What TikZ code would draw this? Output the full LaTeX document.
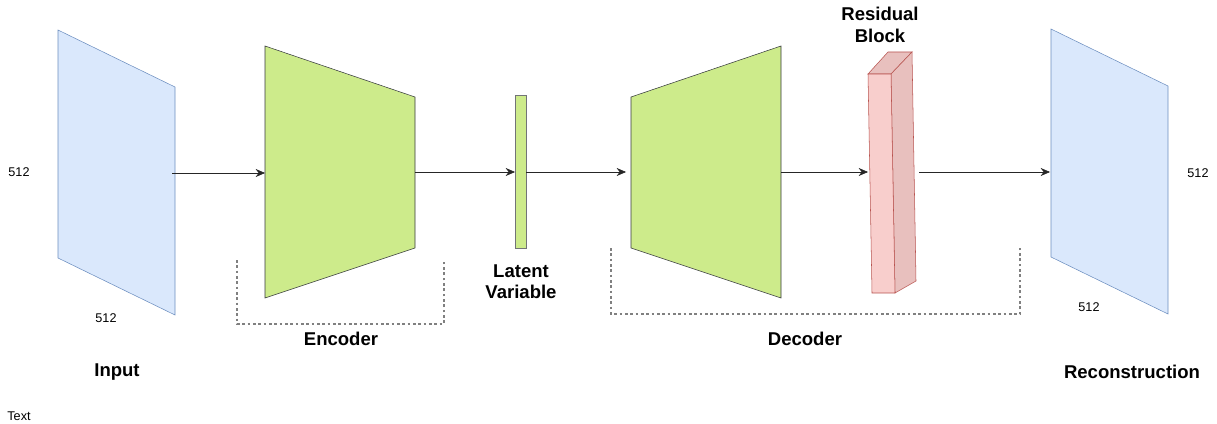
\documentclass[tikz,border=0pt]{standalone}
\usepackage{fontspec}
\setmainfont{Liberation Sans}
\usetikzlibrary{arrows.meta}
\definecolor{inblue}{HTML}{DAE8FC}
\definecolor{inline}{HTML}{6C8EBF}
\definecolor{encgreen}{HTML}{CDEB8B}
\definecolor{encline}{HTML}{36393D}
\definecolor{resfill}{HTML}{F8CECC}
\definecolor{resside}{HTML}{E8C0BE}
\definecolor{resline}{HTML}{B85450}
\tikzset{
  flow/.style={-{Stealth[length=7pt,width=6pt]},thin,black!85},
  group/.style={gray,line width=0.9pt,dash pattern=on 2pt off 2pt},
  title/.style={font=\bfseries\fontsize{13.9}{16}\selectfont,align=center},
  small/.style={font=\fontsize{9.5}{11}\selectfont}
}
\begin{document}
\begin{tikzpicture}[x=0.75pt,y=-0.75pt]
        \useasboundingbox (0,0) rectangle (1217,424);
        %% input and output images
        \draw[inline,fill=inblue] (58,30) -- (175,87) -- (175,315) -- (58,258) -- cycle;
        \draw[inline,fill=inblue] (1051,29) -- (1168,86) -- (1168,314) -- (1051,257) -- cycle;
        %% encoder, latent, decoder
        \draw[encline,fill=encgreen] (265,46) -- (415,97) -- (415,248) -- (265,298) -- cycle;
        \draw[encline!70,fill=encgreen] (515,95) rectangle (526,248);
        \draw[encline,fill=encgreen] (631,97) -- (781,46) -- (781,298) -- (631,248) -- cycle;
        %% residual block as a box
        \draw[resline,fill=resside] (868,74) -- (888,52) -- (912,52) -- (891,74) -- cycle;
        \draw[resline,fill=resside] (891,74) -- (912,52) -- (916,281) -- (895,293) -- cycle;
        \draw[resline,fill=resfill] (868,74) -- (891,74) -- (895,293) -- (872,293) -- cycle;
        %% connector ends
        \coordinate (inR) at (172,173);
        \coordinate (encL) at (265,173);
        \coordinate (encR) at (415,172);
        \coordinate (latL) at (515,172);
        \coordinate (latR) at (526,172);
        \coordinate (decL) at (626,172);
        \coordinate (decR) at (781,172);
        \coordinate (resL) at (868,172);
        \coordinate (resR) at (919,172);
        \coordinate (outL) at (1050,172);
        \draw[flow] (inR) -- (encL);
        \draw[flow] (encR) -- (latL);
        \draw[flow] (latR) -- (decL);
        \draw[flow] (decR) -- (resL);
        \draw[flow] (resR) -- (outL);
        %% dotted groups
        \draw[group] (237,260) -- (237,324) -- (444,324) -- (444,260);
        \draw[group] (611,248) -- (611,314) -- (1020,314) -- (1020,248);
        %% labels
        \node[small] (inH) at (19,172) {512};
        \node[small] (inW) at (106,318) {512};
        \node[small] (outH) at (1198,173) {512};
        \node[small] (outW) at (1089,307) {512};
        \node[small] (txt) at (19,416) {Text};
        \node[title] (inLab) at (117,372) {Input};
        \node[title] (encLab) at (341,339) {Encoder};
        \node[title] (latLab) at (521,282) {Latent\\Variable};
        \node[title] (decLab) at (805,339) {Decoder};
        \node[title] (resLab) at (880,25) {Residual\\Block};
        \node[title] (outLab) at (1132,372) {Reconstruction};
    \end{tikzpicture}
\end{document}
